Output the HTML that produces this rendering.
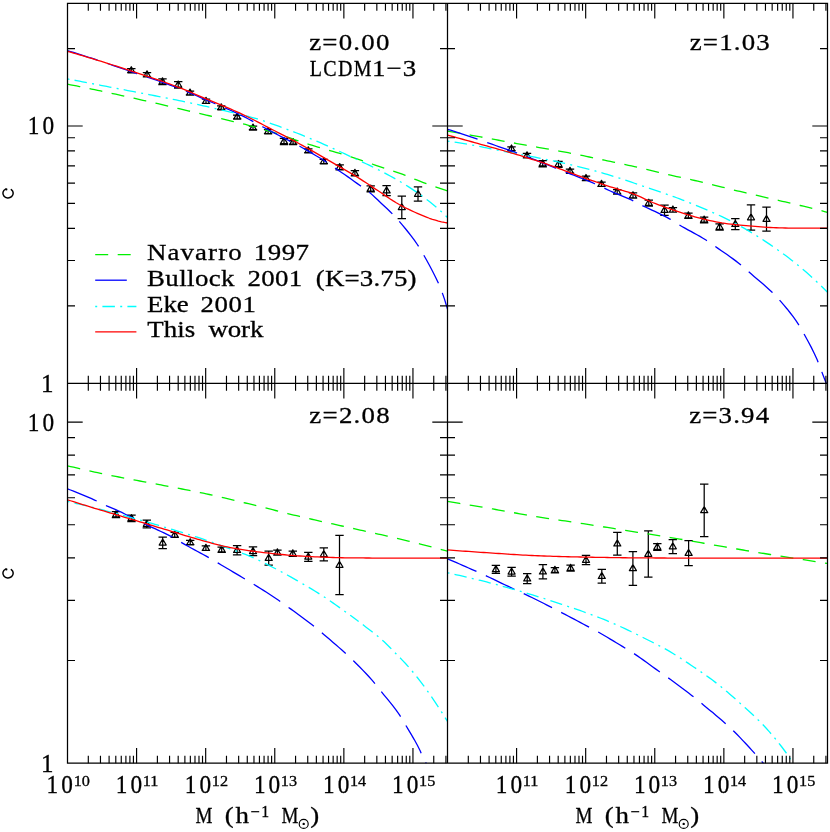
<!DOCTYPE html>
<html><head><meta charset="utf-8"><title>c(M) relations</title>
<style>html,body{margin:0;padding:0;background:#fff}body{width:830px;height:832px;overflow:hidden}svg{display:block;will-change:transform}text{font-family:"Liberation Serif",serif;fill:#000;stroke:#000;stroke-width:.3px}</style></head><body>
<svg width="830" height="832" viewBox="0 0 830 832">
<rect width="830" height="832" fill="#fff"/>
<defs>
<clipPath id="cTL"><rect x="67.5" y="3.25" width="380" height="380"/></clipPath>
<clipPath id="cTR"><rect x="447.5" y="3.25" width="380" height="380"/></clipPath>
<clipPath id="cBL"><rect x="67.5" y="383.25" width="380" height="379.95"/></clipPath>
<clipPath id="cBR"><rect x="447.5" y="383.25" width="380" height="379.95"/></clipPath>
</defs>
<g fill="none" stroke="#000" stroke-width="1.25" stroke-linejoin="round">
<path d="M131.3 68.6V72.4M127.1 68.6H135.5M127.1 72.4H135.5M131.3 66.7L134.8 72.75L127.8 72.75ZM147 72.5V76.9M142.8 72.5H151.2M142.8 76.9H151.2M147 70.9L150.5 76.95L143.5 76.95ZM162.5 78.8V84.6M158.3 78.8H166.7M158.3 84.6H166.7M162.5 77.9L166 83.95L159 83.95ZM178.2 81.5V88.1M174 81.5H182.4M174 88.1H182.4M178.2 81L181.7 87.05L174.7 87.05ZM190 91V94.8M185.8 91H194.2M185.8 94.8H194.2M190 89.1L193.5 95.15L186.5 95.15ZM206 99V103.4M201.8 99H210.2M201.8 103.4H210.2M206 97.4L209.5 103.45L202.5 103.45ZM221.2 105.9V109.3M217 105.9H225.4M217 109.3H225.4M221.2 103.8L224.7 109.85L217.7 109.85ZM237.2 115V118.8M233 115H241.4M233 118.8H241.4M237.2 113.1L240.7 119.15L233.7 119.15ZM253 126.2V129.6M248.8 126.2H257.2M248.8 129.6H257.2M253 124.1L256.5 130.15L249.5 130.15ZM268.1 129.7V133.5M263.9 129.7H272.3M263.9 133.5H272.3M268.1 127.8L271.6 133.85L264.6 133.85ZM284 138.3V144.5M279.8 138.3H288.2M279.8 144.5H288.2M284 137.6L287.5 143.65L280.5 143.65ZM293.1 140.7V144.1M288.9 140.7H297.3M288.9 144.1H297.3M293.1 138.6L296.6 144.65L289.6 144.65ZM308.3 148.8V152.6M304.1 148.8H312.5M304.1 152.6H312.5M308.3 146.9L311.8 152.95L304.8 152.95ZM323.8 159.3V163.7M319.6 159.3H328M319.6 163.7H328M323.8 157.7L327.3 163.75L320.3 163.75ZM339.7 164.9V169.9M335.5 164.9H343.9M335.5 169.9H343.9M339.7 163.6L343.2 169.65L336.2 169.65ZM354.9 170.5V175.9M350.7 170.5H359.1M350.7 175.9H359.1M354.9 169.4L358.4 175.45L351.4 175.45ZM370.7 185.9V191.9M366.5 185.9H374.9M366.5 191.9H374.9M370.7 185.1L374.2 191.15L367.2 191.15ZM386.6 185.5V195.7M382.4 185.5H390.8M382.4 195.7H390.8M386.6 186.8L390.1 192.85L383.1 192.85ZM401.8 196.1V218.5M397.6 196.1H406M397.6 218.5H406M401.8 203.5L405.3 209.55L398.3 209.55ZM418 186.8V201.2M413.8 186.8H422.2M413.8 201.2H422.2M418 190.2L421.5 196.25L414.5 196.25ZM511.5 146.9V150.7M507.3 146.9H515.7M507.3 150.7H515.7M511.5 145L515 151.05L508 151.05ZM527 153.4V157.8M522.8 153.4H531.2M522.8 157.8H531.2M527 151.8L530.5 157.85L523.5 157.85ZM542.7 160.6V166.8M538.5 160.6H546.9M538.5 166.8H546.9M542.7 159.9L546.2 165.95L539.2 165.95ZM558.5 161.3V167.3M554.3 161.3H562.7M554.3 167.3H562.7M558.5 160.5L562 166.55L555 166.55ZM570 169.2V173M565.8 169.2H574.2M565.8 173H574.2M570 167.3L573.5 173.35L566.5 173.35ZM586 176.1V180.5M581.8 176.1H590.2M581.8 180.5H590.2M586 174.5L589.5 180.55L582.5 180.55ZM601.5 182V186.4M597.3 182H605.7M597.3 186.4H605.7M601.5 180.4L605 186.45L598 186.45ZM617.2 189.6V194M613 189.6H621.4M613 194H621.4M617.2 188L620.7 194.05L613.7 194.05ZM633 192.8V198.2M628.8 192.8H637.2M628.8 198.2H637.2M633 191.7L636.5 197.75L629.5 197.75ZM648.8 200V206M644.6 200H653M644.6 206H653M648.8 199.2L652.3 205.25L645.3 205.25ZM664.5 205.1V215.3M660.3 205.1H668.7M660.3 215.3H668.7M664.5 206.4L668 212.45L661 212.45ZM672.9 207.6V212M668.7 207.6H677.1M668.7 212H677.1M672.9 206L676.4 212.05L669.4 212.05ZM688.4 213V218.4M684.2 213H692.6M684.2 218.4H692.6M688.4 211.9L691.9 217.95L684.9 217.95ZM704.1 217V222.8M699.9 217H708.3M699.9 222.8H708.3M704.1 216.1L707.6 222.15L700.6 222.15ZM719.6 223.8V230.2M715.4 223.8H723.8M715.4 230.2H723.8M719.6 223.2L723.1 229.25L716.1 229.25ZM735.3 218.7V229.7M731.1 218.7H739.5M731.1 229.7H739.5M735.3 220.4L738.8 226.45L731.8 226.45ZM751 204.8V230.2M746.8 204.8H755.2M746.8 230.2H755.2M751 213.7L754.5 219.75L747.5 219.75ZM766.5 207.2V231M762.3 207.2H770.7M762.3 231H770.7M766.5 215.3L770 221.35L763 221.35ZM116 511.7V517.7M111.8 511.7H120.2M111.8 517.7H120.2M116 510.9L119.5 516.95L112.5 516.95ZM131.5 515.2V521.6M127.3 515.2H135.7M127.3 521.6H135.7M131.5 514.6L135 520.65L128 520.65ZM146.8 520.2V527.8M142.6 520.2H151M142.6 527.8H151M146.8 520.2L150.3 526.25L143.3 526.25ZM162.7 537.1V548.5M158.5 537.1H166.9M158.5 548.5H166.9M162.7 539L166.2 545.05L159.2 545.05ZM174.7 532.4V537.4M170.5 532.4H178.9M170.5 537.4H178.9M174.7 531.1L178.2 537.15L171.2 537.15ZM190.2 540.3V544.7M186 540.3H194.4M186 544.7H194.4M190.2 538.7L193.7 544.75L186.7 544.75ZM205.9 545.9V550.3M201.7 545.9H210.1M201.7 550.3H210.1M205.9 544.3L209.4 550.35L202.4 550.35ZM221.7 547V552.4M217.5 547H225.9M217.5 552.4H225.9M221.7 545.9L225.2 551.95L218.2 551.95ZM237.1 545.5V554.9M232.9 545.5H241.3M232.9 554.9H241.3M237.1 546.4L240.6 552.45L233.6 552.45ZM253 546.9V555.7M248.8 546.9H257.2M248.8 555.7H257.2M253 547.5L256.5 553.55L249.5 553.55ZM268.7 551.2V565M264.5 551.2H272.9M264.5 565H272.9M268.7 554.3L272.2 560.35L265.2 560.35ZM277.4 550.2V555.2M273.2 550.2H281.6M273.2 555.2H281.6M277.4 548.9L280.9 554.95L273.9 554.95ZM292.8 551V556.4M288.6 551H297M288.6 556.4H297M292.8 549.9L296.3 555.95L289.3 555.95ZM308.3 552.3V561.3M304.1 552.3H312.5M304.1 561.3H312.5M308.3 553L311.8 559.05L304.8 559.05ZM323.8 547.8V560.8M319.6 547.8H328M319.6 560.8H328M323.8 550.5L327.3 556.55L320.3 556.55ZM339.5 535.4V594.6M335.3 535.4H343.7M335.3 594.6H343.7M339.5 561.2L343 567.25L336 567.25ZM495.9 565.4V573.4M491.7 565.4H500.1M491.7 573.4H500.1M495.9 565.6L499.4 571.65L492.4 571.65ZM511.6 567.4V576.2M507.4 567.4H515.8M507.4 576.2H515.8M511.6 568L515.1 574.05L508.1 574.05ZM527.2 573.7V583.7M523 573.7H531.4M523 583.7H531.4M527.2 574.9L530.7 580.95L523.7 580.95ZM542.9 564.5V578.9M538.7 564.5H547.1M538.7 578.9H547.1M542.9 567.9L546.4 573.95L539.4 573.95ZM554.9 567.5V572.9M550.7 567.5H559.1M550.7 572.9H559.1M554.9 566.4L558.4 572.45L551.4 572.45ZM570.6 565.2V571.2M566.4 565.2H574.8M566.4 571.2H574.8M570.6 564.4L574.1 570.45L567.1 570.45ZM586 555.4V564.6M581.8 555.4H590.2M581.8 564.6H590.2M586 556.2L589.5 562.25L582.5 562.25ZM601.8 569.4V583M597.6 569.4H606M597.6 583H606M601.8 572.4L605.3 578.45L598.3 578.45ZM617.3 532.4V555M613.1 532.4H621.5M613.1 555H621.5M617.3 539.9L620.8 545.95L613.8 545.95ZM632.9 551.5V585.3M628.7 551.5H637.1M628.7 585.3H637.1M632.9 564.6L636.4 570.65L629.4 570.65ZM648.3 530.9V577.1M644.1 530.9H652.5M644.1 577.1H652.5M648.3 550.2L651.8 556.25L644.8 556.25ZM657.3 543.6V550.4M653.1 543.6H661.5M653.1 550.4H661.5M657.3 543.2L660.8 549.25L653.8 549.25ZM672.8 539.5V553.5M668.6 539.5H677M668.6 553.5H677M672.8 542.7L676.3 548.75L669.3 548.75ZM688.6 540.6V565.6M684.4 540.6H692.8M684.4 565.6H692.8M688.6 549.3L692.1 555.35L685.1 555.35ZM704.2 484.1V536.7M700 484.1H708.4M700 536.7H708.4M704.2 506.6L707.7 512.65L700.7 512.65Z"/>
</g>
<g clip-path="url(#cTL)" fill="none" stroke-width="1.3" stroke-linejoin="round">
<path d="M67.5 84.2 L70.52 84.79 L73.53 85.38 L76.55 85.98 L79.56 86.58 L82.58 87.19 L85.6 87.8 L88.61 88.42 L91.63 89.04 L94.64 89.67 L97.66 90.3 L100.67 90.93 L103.69 91.57 L106.71 92.22 L109.72 92.87 L112.74 93.53 L115.75 94.19 L118.77 94.85 L121.79 95.52 L124.8 96.2 L127.82 96.87 L130.83 97.55 L133.85 98.23 L136.87 98.91 L139.88 99.6 L142.9 100.28 L145.91 100.97 L148.93 101.66 L151.94 102.35 L154.96 103.04 L157.98 103.74 L160.99 104.44 L164.01 105.14 L167.02 105.85 L170.04 106.55 L173.06 107.26 L176.07 107.97 L179.09 108.68 L182.1 109.39 L185.12 110.09 L188.13 110.8 L191.15 111.51 L194.17 112.22 L197.18 112.92 L200.2 113.63 L203.21 114.33 L206.23 115.04 L209.25 115.75 L212.26 116.46 L215.28 117.18 L218.29 117.9 L221.31 118.62 L224.33 119.34 L227.34 120.07 L230.36 120.8 L233.37 121.53 L236.39 122.26 L239.4 122.99 L242.42 123.73 L245.44 124.49 L248.45 125.26 L251.47 126.04 L254.48 126.86 L257.5 127.69 L260.52 128.54 L263.53 129.41 L266.55 130.3 L269.56 131.2 L272.58 132.13 L275.6 133.07 L278.61 134.05 L281.63 135.06 L284.64 136.1 L287.66 137.15 L290.67 138.22 L293.69 139.28 L296.71 140.33 L299.72 141.37 L302.74 142.39 L305.75 143.38 L308.77 144.33 L311.79 145.24 L314.8 146.13 L317.82 147.01 L320.83 147.88 L323.85 148.75 L326.87 149.62 L329.88 150.51 L332.9 151.41 L335.91 152.31 L338.93 153.2 L341.94 154.11 L344.96 155.02 L347.98 155.95 L350.99 156.9 L354.01 157.87 L357.02 158.86 L360.04 159.87 L363.06 160.9 L366.07 161.93 L369.09 162.97 L372.1 164.01 L375.12 165.05 L378.13 166.09 L381.15 167.11 L384.17 168.12 L387.18 169.11 L390.2 170.08 L393.21 171.06 L396.23 172.06 L399.25 173.09 L402.26 174.16 L405.28 175.29 L408.29 176.53 L411.31 177.82 L414.33 179.05 L417.34 180.23 L420.36 181.39 L423.37 182.54 L426.39 183.67 L429.4 184.78 L432.42 185.86 L435.44 186.91 L438.45 187.93 L441.47 188.91 L444.48 189.87 L447.5 190.8" stroke="#00f000" stroke-dasharray="13 9.5"/>
<path d="M67.5 50.6 L70.52 51.53 L73.53 52.46 L76.55 53.41 L79.56 54.36 L82.58 55.31 L85.6 56.28 L88.61 57.25 L91.63 58.23 L94.64 59.21 L97.66 60.2 L100.67 61.19 L103.69 62.2 L106.71 63.21 L109.72 64.24 L112.74 65.27 L115.75 66.31 L118.77 67.35 L121.79 68.4 L124.8 69.45 L127.82 70.5 L130.83 71.54 L133.85 72.58 L136.87 73.61 L139.88 74.63 L142.9 75.65 L145.91 76.66 L148.93 77.68 L151.94 78.7 L154.96 79.72 L157.98 80.76 L160.99 81.8 L164.01 82.86 L167.02 83.93 L170.04 85.02 L173.06 86.13 L176.07 87.26 L179.09 88.42 L182.1 89.62 L185.12 90.86 L188.13 92.12 L191.15 93.41 L194.17 94.71 L197.18 96.02 L200.2 97.33 L203.21 98.63 L206.23 99.93 L209.25 101.21 L212.26 102.48 L215.28 103.76 L218.29 105.03 L221.31 106.32 L224.33 107.61 L227.34 108.93 L230.36 110.26 L233.37 111.62 L236.39 113.01 L239.4 114.44 L242.42 115.92 L245.44 117.44 L248.45 118.99 L251.47 120.58 L254.48 122.24 L257.5 123.92 L260.52 125.59 L263.53 127.23 L266.55 128.86 L269.56 130.48 L272.58 132.09 L275.6 133.69 L278.61 135.26 L281.63 136.83 L284.64 138.39 L287.66 139.95 L290.67 141.52 L293.69 143.07 L296.71 144.64 L299.72 146.27 L302.74 147.95 L305.75 149.66 L308.77 151.41 L311.79 153.17 L314.8 154.95 L317.82 156.73 L320.83 158.55 L323.85 160.43 L326.87 162.4 L329.88 164.49 L332.9 166.61 L335.91 168.67 L338.93 170.7 L341.94 172.73 L344.96 174.78 L347.98 176.88 L350.99 179.02 L354.01 181.18 L357.02 183.35 L360.04 185.5 L363.06 187.57 L366.07 189.67 L369.09 192 L372.1 194.63 L375.12 197.46 L378.13 200.34 L381.15 203.17 L384.17 205.96 L387.18 208.78 L390.2 211.7 L393.21 214.76 L396.23 217.99 L399.25 221.4 L402.26 224.91 L405.28 228.5 L408.29 232.22 L411.31 236.1 L414.33 240.18 L417.34 244.5 L420.36 249.32 L423.37 254.49 L426.39 259.79 L429.4 265.25 L432.42 270.94 L435.44 276.93 L438.45 283.31 L441.47 290.52 L444.48 299.1 L447.5 309" stroke="#0000ff" stroke-dasharray="31.6 10.3"/>
<path d="M67.5 78.9 L70.52 79.48 L73.53 80.06 L76.55 80.63 L79.56 81.21 L82.58 81.79 L85.6 82.37 L88.61 82.95 L91.63 83.53 L94.64 84.12 L97.66 84.7 L100.67 85.28 L103.69 85.86 L106.71 86.44 L109.72 87.03 L112.74 87.61 L115.75 88.19 L118.77 88.78 L121.79 89.36 L124.8 89.95 L127.82 90.53 L130.83 91.12 L133.85 91.7 L136.87 92.28 L139.88 92.86 L142.9 93.44 L145.91 94.02 L148.93 94.6 L151.94 95.18 L154.96 95.76 L157.98 96.34 L160.99 96.93 L164.01 97.53 L167.02 98.13 L170.04 98.73 L173.06 99.35 L176.07 99.97 L179.09 100.6 L182.1 101.23 L185.12 101.87 L188.13 102.51 L191.15 103.16 L194.17 103.81 L197.18 104.47 L200.2 105.13 L203.21 105.8 L206.23 106.48 L209.25 107.16 L212.26 107.85 L215.28 108.55 L218.29 109.24 L221.31 109.93 L224.33 110.62 L227.34 111.31 L230.36 112.01 L233.37 112.72 L236.39 113.43 L239.4 114.16 L242.42 114.91 L245.44 115.67 L248.45 116.46 L251.47 117.27 L254.48 118.11 L257.5 118.97 L260.52 119.89 L263.53 120.88 L266.55 121.92 L269.56 122.98 L272.58 124.06 L275.6 125.13 L278.61 126.21 L281.63 127.31 L284.64 128.42 L287.66 129.55 L290.67 130.69 L293.69 131.84 L296.71 133.01 L299.72 134.2 L302.74 135.4 L305.75 136.62 L308.77 137.86 L311.79 139.11 L314.8 140.38 L317.82 141.67 L320.83 142.96 L323.85 144.28 L326.87 145.61 L329.88 146.97 L332.9 148.35 L335.91 149.74 L338.93 151.13 L341.94 152.53 L344.96 153.93 L347.98 155.33 L350.99 156.72 L354.01 158.11 L357.02 159.5 L360.04 160.9 L363.06 162.32 L366.07 163.75 L369.09 165.21 L372.1 166.69 L375.12 168.18 L378.13 169.68 L381.15 171.2 L384.17 172.75 L387.18 174.33 L390.2 175.95 L393.21 177.62 L396.23 179.33 L399.25 181.1 L402.26 182.91 L405.28 184.77 L408.29 186.67 L411.31 188.62 L414.33 190.62 L417.34 192.66 L420.36 194.76 L423.37 196.93 L426.39 199.19 L429.4 201.52 L432.42 203.94 L435.44 206.46 L438.45 209.07 L441.47 211.79 L444.48 214.6 L447.5 217.5" stroke="#00ffff" stroke-dasharray="2 5.2 12.5 5.3"/>
<path d="M67.5 51.3 L70.52 52.17 L73.53 53.04 L76.55 53.92 L79.56 54.81 L82.58 55.7 L85.6 56.6 L88.61 57.51 L91.63 58.42 L94.64 59.34 L97.66 60.27 L100.67 61.2 L103.69 62.14 L106.71 63.09 L109.72 64.04 L112.74 65 L115.75 65.97 L118.77 66.95 L121.79 67.93 L124.8 68.92 L127.82 69.92 L130.83 70.91 L133.85 71.91 L136.87 72.91 L139.88 73.91 L142.9 74.9 L145.91 75.9 L148.93 76.9 L151.94 77.9 L154.96 78.91 L157.98 79.93 L160.99 80.97 L164.01 82.01 L167.02 83.07 L170.04 84.15 L173.06 85.25 L176.07 86.37 L179.09 87.52 L182.1 88.7 L185.12 89.93 L188.13 91.18 L191.15 92.46 L194.17 93.75 L197.18 95.04 L200.2 96.33 L203.21 97.62 L206.23 98.88 L209.25 100.14 L212.26 101.38 L215.28 102.62 L218.29 103.87 L221.31 105.12 L224.33 106.38 L227.34 107.65 L230.36 108.94 L233.37 110.25 L236.39 111.58 L239.4 112.95 L242.42 114.35 L245.44 115.78 L248.45 117.24 L251.47 118.73 L254.48 120.26 L257.5 121.83 L260.52 123.41 L263.53 125 L266.55 126.6 L269.56 128.17 L272.58 129.73 L275.6 131.27 L278.61 132.81 L281.63 134.35 L284.64 135.9 L287.66 137.47 L290.67 139.05 L293.69 140.67 L296.71 142.3 L299.72 143.95 L302.74 145.62 L305.75 147.3 L308.77 148.99 L311.79 150.69 L314.8 152.4 L317.82 154.12 L320.83 155.87 L323.85 157.62 L326.87 159.39 L329.88 161.15 L332.9 162.92 L335.91 164.67 L338.93 166.41 L341.94 168.14 L344.96 169.87 L347.98 171.6 L350.99 173.37 L354.01 175.16 L357.02 177 L360.04 178.9 L363.06 180.85 L366.07 182.83 L369.09 184.83 L372.1 186.85 L375.12 188.85 L378.13 190.83 L381.15 192.82 L384.17 194.85 L387.18 196.89 L390.2 198.92 L393.21 200.89 L396.23 202.77 L399.25 204.53 L402.26 206.16 L405.28 207.71 L408.29 209.19 L411.31 210.61 L414.33 211.98 L417.34 213.31 L420.36 214.6 L423.37 215.86 L426.39 217.09 L429.4 218.26 L432.42 219.29 L435.44 220.18 L438.45 221.02 L441.47 221.77 L444.48 222.44 L447.5 223" stroke="#ff0000"/>
</g>
<g clip-path="url(#cTR)" fill="none" stroke-width="1.3" stroke-linejoin="round">
<path d="M447.5 131 L450.52 131.54 L453.53 132.07 L456.55 132.61 L459.56 133.15 L462.58 133.69 L465.6 134.23 L468.61 134.77 L471.63 135.31 L474.64 135.85 L477.66 136.4 L480.67 136.94 L483.69 137.49 L486.71 138.03 L489.72 138.58 L492.74 139.13 L495.75 139.69 L498.77 140.24 L501.79 140.79 L504.8 141.34 L507.82 141.9 L510.83 142.45 L513.85 143 L516.87 143.55 L519.88 144.1 L522.9 144.65 L525.91 145.19 L528.93 145.73 L531.94 146.26 L534.96 146.79 L537.98 147.32 L540.99 147.85 L544.01 148.37 L547.02 148.9 L550.04 149.43 L553.06 149.96 L556.07 150.5 L559.09 151.05 L562.1 151.6 L565.12 152.16 L568.13 152.72 L571.15 153.3 L574.17 153.89 L577.18 154.5 L580.2 155.11 L583.21 155.73 L586.23 156.36 L589.25 156.99 L592.26 157.62 L595.28 158.26 L598.29 158.9 L601.31 159.54 L604.33 160.18 L607.34 160.82 L610.36 161.45 L613.37 162.08 L616.39 162.71 L619.4 163.35 L622.42 163.98 L625.44 164.63 L628.45 165.27 L631.47 165.93 L634.48 166.6 L637.5 167.28 L640.52 167.97 L643.53 168.69 L646.55 169.42 L649.56 170.17 L652.58 170.92 L655.6 171.67 L658.61 172.41 L661.63 173.14 L664.64 173.86 L667.66 174.56 L670.67 175.24 L673.69 175.91 L676.71 176.57 L679.72 177.23 L682.74 177.88 L685.75 178.53 L688.77 179.18 L691.79 179.84 L694.8 180.5 L697.82 181.17 L700.83 181.86 L703.85 182.56 L706.87 183.28 L709.88 184.01 L712.9 184.76 L715.91 185.51 L718.93 186.27 L721.94 187.02 L724.96 187.78 L727.98 188.54 L730.99 189.29 L734.01 190.04 L737.02 190.77 L740.04 191.49 L743.06 192.2 L746.07 192.91 L749.09 193.61 L752.1 194.31 L755.12 195.01 L758.13 195.7 L761.15 196.39 L764.17 197.09 L767.18 197.78 L770.2 198.48 L773.21 199.18 L776.23 199.88 L779.25 200.58 L782.26 201.28 L785.28 201.98 L788.29 202.68 L791.31 203.38 L794.33 204.08 L797.34 204.79 L800.36 205.5 L803.37 206.22 L806.39 206.95 L809.4 207.68 L812.42 208.43 L815.44 209.18 L818.45 209.95 L821.47 210.73 L824.48 211.51 L827.5 212.3" stroke="#00f000" stroke-dasharray="13 9.5"/>
<path d="M447.5 129.3 L450.51 130.21 L453.51 131.14 L456.52 132.08 L459.52 133.04 L462.53 134.02 L465.53 135.01 L468.54 136.01 L471.54 137.03 L474.55 138.05 L477.56 139.09 L480.56 140.16 L483.57 141.26 L486.57 142.35 L489.58 143.41 L492.58 144.46 L495.59 145.5 L498.59 146.53 L501.6 147.56 L504.61 148.6 L507.61 149.64 L510.62 150.7 L513.62 151.77 L516.63 152.87 L519.63 153.98 L522.64 155.11 L525.64 156.25 L528.65 157.4 L531.66 158.56 L534.66 159.73 L537.67 160.91 L540.67 162.1 L543.68 163.29 L546.68 164.48 L549.69 165.68 L552.69 166.88 L555.7 168.08 L558.71 169.28 L561.71 170.47 L564.72 171.67 L567.72 172.86 L570.73 174.04 L573.73 175.21 L576.74 176.39 L579.74 177.57 L582.75 178.77 L585.76 179.98 L588.76 181.21 L591.77 182.46 L594.77 183.75 L597.78 185.09 L600.78 186.48 L603.79 187.9 L606.79 189.32 L609.8 190.73 L612.81 192.09 L615.81 193.39 L618.82 194.63 L621.82 195.84 L624.83 197.05 L627.83 198.31 L630.84 199.65 L633.84 201.11 L636.85 202.71 L639.86 204.31 L642.86 205.83 L645.87 207.28 L648.87 208.68 L651.88 210.07 L654.88 211.45 L657.89 212.86 L660.89 214.3 L663.9 215.8 L666.91 217.37 L669.91 219.06 L672.92 220.94 L675.92 222.88 L678.93 224.73 L681.93 226.48 L684.94 228.16 L687.94 229.81 L690.95 231.44 L693.96 233.07 L696.96 234.72 L699.97 236.42 L702.97 238.19 L705.98 240.05 L708.98 242.05 L711.99 244.17 L714.99 246.29 L718 248.37 L721.01 250.44 L724.01 252.5 L727.02 254.59 L730.02 256.71 L733.03 258.88 L736.03 261.12 L739.04 263.45 L742.04 265.94 L745.05 268.59 L748.06 271.26 L751.06 273.85 L754.07 276.39 L757.07 278.91 L760.08 281.45 L763.08 284.03 L766.09 286.67 L769.09 289.41 L772.1 292.26 L775.11 295.28 L778.11 298.5 L781.12 301.89 L784.12 305.36 L787.13 308.97 L790.13 312.74 L793.14 316.7 L796.14 320.88 L799.15 325.4 L802.16 330.57 L805.16 335.96 L808.17 341.44 L811.17 347.15 L814.18 353.24 L817.18 359.83 L820.19 367.61 L823.19 375.45 L826.2 383.2" stroke="#0000ff" stroke-dasharray="31.6 10.3"/>
<path d="M447.5 141.1 L450.52 141.53 L453.53 141.98 L456.55 142.44 L459.56 142.92 L462.58 143.41 L465.6 143.91 L468.61 144.43 L471.63 144.96 L474.64 145.51 L477.66 146.09 L480.67 146.7 L483.69 147.31 L486.71 147.94 L489.72 148.57 L492.74 149.19 L495.75 149.8 L498.77 150.39 L501.79 150.97 L504.8 151.54 L507.82 152.11 L510.83 152.67 L513.85 153.23 L516.87 153.79 L519.88 154.35 L522.9 154.91 L525.91 155.48 L528.93 156.05 L531.94 156.63 L534.96 157.22 L537.98 157.81 L540.99 158.41 L544.01 159.01 L547.02 159.62 L550.04 160.23 L553.06 160.85 L556.07 161.48 L559.09 162.13 L562.1 162.79 L565.12 163.46 L568.13 164.15 L571.15 164.85 L574.17 165.57 L577.18 166.3 L580.2 167.05 L583.21 167.81 L586.23 168.58 L589.25 169.37 L592.26 170.18 L595.28 170.99 L598.29 171.83 L601.31 172.69 L604.33 173.57 L607.34 174.46 L610.36 175.38 L613.37 176.3 L616.39 177.24 L619.4 178.19 L622.42 179.15 L625.44 180.15 L628.45 181.17 L631.47 182.2 L634.48 183.24 L637.5 184.27 L640.52 185.29 L643.53 186.3 L646.55 187.33 L649.56 188.35 L652.58 189.38 L655.6 190.41 L658.61 191.44 L661.63 192.47 L664.64 193.49 L667.66 194.53 L670.67 195.58 L673.69 196.65 L676.71 197.75 L679.72 198.87 L682.74 200.03 L685.75 201.2 L688.77 202.4 L691.79 203.62 L694.8 204.86 L697.82 206.11 L700.83 207.38 L703.85 208.66 L706.87 209.94 L709.88 211.24 L712.9 212.55 L715.91 213.89 L718.93 215.25 L721.94 216.65 L724.96 218.1 L727.98 219.58 L730.99 221.12 L734.01 222.69 L737.02 224.31 L740.04 225.97 L743.06 227.67 L746.07 229.4 L749.09 231.16 L752.1 232.96 L755.12 234.81 L758.13 236.7 L761.15 238.63 L764.17 240.6 L767.18 242.61 L770.2 244.66 L773.21 246.74 L776.23 248.84 L779.25 250.97 L782.26 253.14 L785.28 255.35 L788.29 257.6 L791.31 259.9 L794.33 262.26 L797.34 264.69 L800.36 267.18 L803.37 269.73 L806.39 272.34 L809.4 275.02 L812.42 277.75 L815.44 280.54 L818.45 283.4 L821.47 286.31 L824.48 289.28 L827.5 292.3" stroke="#00ffff" stroke-dasharray="2 5.2 12.5 5.3"/>
<path d="M447.5 135.1 L450.52 135.93 L453.53 136.75 L456.55 137.58 L459.56 138.41 L462.58 139.25 L465.6 140.08 L468.61 140.92 L471.63 141.75 L474.64 142.59 L477.66 143.43 L480.67 144.27 L483.69 145.1 L486.71 145.94 L489.72 146.77 L492.74 147.6 L495.75 148.44 L498.77 149.29 L501.79 150.14 L504.8 151 L507.82 151.88 L510.83 152.76 L513.85 153.66 L516.87 154.57 L519.88 155.49 L522.9 156.42 L525.91 157.36 L528.93 158.31 L531.94 159.27 L534.96 160.24 L537.98 161.22 L540.99 162.21 L544.01 163.21 L547.02 164.23 L550.04 165.26 L553.06 166.33 L556.07 167.42 L559.09 168.53 L562.1 169.66 L565.12 170.79 L568.13 171.93 L571.15 173.07 L574.17 174.21 L577.18 175.33 L580.2 176.43 L583.21 177.51 L586.23 178.57 L589.25 179.62 L592.26 180.67 L595.28 181.71 L598.29 182.75 L601.31 183.77 L604.33 184.79 L607.34 185.79 L610.36 186.77 L613.37 187.74 L616.39 188.69 L619.4 189.61 L622.42 190.49 L625.44 191.29 L628.45 192.12 L631.47 193.11 L634.48 194.27 L637.5 195.57 L640.52 196.95 L643.53 198.37 L646.55 199.8 L649.56 201.19 L652.58 202.49 L655.6 203.68 L658.61 204.82 L661.63 205.93 L664.64 207.02 L667.66 208.08 L670.67 209.11 L673.69 210.12 L676.71 211.11 L679.72 212.09 L682.74 213.07 L685.75 214.04 L688.77 215 L691.79 215.92 L694.8 216.81 L697.82 217.66 L700.83 218.44 L703.85 219.17 L706.87 219.88 L709.88 220.56 L712.9 221.22 L715.91 221.84 L718.93 222.41 L721.94 222.94 L724.96 223.4 L727.98 223.8 L730.99 224.17 L734.01 224.5 L737.02 224.81 L740.04 225.1 L743.06 225.37 L746.07 225.63 L749.09 225.88 L752.1 226.13 L755.12 226.39 L758.13 226.65 L761.15 226.89 L764.17 227.12 L767.18 227.33 L770.2 227.51 L773.21 227.65 L776.23 227.75 L779.25 227.85 L782.26 227.93 L785.28 228.01 L788.29 228.08 L791.31 228.14 L794.33 228.18 L797.34 228.2 L800.36 228.2 L803.37 228.2 L806.39 228.2 L809.4 228.2 L812.42 228.2 L815.44 228.2 L818.45 228.2 L821.47 228.2 L824.48 228.2 L827.5 228.2" stroke="#ff0000"/>
</g>
<g clip-path="url(#cBL)" fill="none" stroke-width="1.3" stroke-linejoin="round">
<path d="M67.5 465.8 L70.52 466.52 L73.53 467.23 L76.55 467.93 L79.56 468.63 L82.58 469.32 L85.6 470.01 L88.61 470.68 L91.63 471.35 L94.64 472.02 L97.66 472.67 L100.67 473.32 L103.69 473.96 L106.71 474.59 L109.72 475.21 L112.74 475.82 L115.75 476.42 L118.77 477.01 L121.79 477.6 L124.8 478.17 L127.82 478.74 L130.83 479.31 L133.85 479.87 L136.87 480.43 L139.88 480.99 L142.9 481.55 L145.91 482.11 L148.93 482.68 L151.94 483.25 L154.96 483.82 L157.98 484.4 L160.99 484.98 L164.01 485.55 L167.02 486.13 L170.04 486.7 L173.06 487.27 L176.07 487.84 L179.09 488.41 L182.1 488.99 L185.12 489.57 L188.13 490.15 L191.15 490.75 L194.17 491.35 L197.18 491.96 L200.2 492.58 L203.21 493.21 L206.23 493.85 L209.25 494.5 L212.26 495.17 L215.28 495.85 L218.29 496.54 L221.31 497.23 L224.33 497.94 L227.34 498.65 L230.36 499.37 L233.37 500.09 L236.39 500.81 L239.4 501.54 L242.42 502.27 L245.44 503 L248.45 503.73 L251.47 504.45 L254.48 505.19 L257.5 505.94 L260.52 506.69 L263.53 507.45 L266.55 508.21 L269.56 508.97 L272.58 509.74 L275.6 510.5 L278.61 511.27 L281.63 512.03 L284.64 512.79 L287.66 513.54 L290.67 514.28 L293.69 515.02 L296.71 515.74 L299.72 516.46 L302.74 517.17 L305.75 517.87 L308.77 518.56 L311.79 519.25 L314.8 519.94 L317.82 520.62 L320.83 521.29 L323.85 521.97 L326.87 522.64 L329.88 523.31 L332.9 523.98 L335.91 524.65 L338.93 525.33 L341.94 526 L344.96 526.68 L347.98 527.35 L350.99 528.03 L354.01 528.7 L357.02 529.36 L360.04 530.03 L363.06 530.69 L366.07 531.35 L369.09 532.02 L372.1 532.68 L375.12 533.35 L378.13 534.02 L381.15 534.7 L384.17 535.38 L387.18 536.07 L390.2 536.77 L393.21 537.47 L396.23 538.19 L399.25 538.91 L402.26 539.63 L405.28 540.36 L408.29 541.09 L411.31 541.83 L414.33 542.58 L417.34 543.33 L420.36 544.08 L423.37 544.84 L426.39 545.61 L429.4 546.38 L432.42 547.15 L435.44 547.93 L438.45 548.72 L441.47 549.51 L444.48 550.3 L447.5 551.1" stroke="#00f000" stroke-dasharray="13 9.5"/>
<path d="M67.5 488.9 L70.52 490 L73.53 491.15 L76.55 492.33 L79.56 493.54 L82.58 494.79 L85.59 496.07 L88.61 497.37 L91.62 498.7 L94.64 500.04 L97.65 501.42 L100.67 502.9 L103.68 504.39 L106.7 505.81 L109.71 507.13 L112.73 508.41 L115.74 509.7 L118.76 511.03 L121.77 512.45 L124.79 513.96 L127.8 515.51 L130.82 517.06 L133.83 518.56 L136.85 520.03 L139.86 521.5 L142.88 522.95 L145.89 524.4 L148.91 525.86 L151.92 527.3 L154.94 528.7 L157.95 530.08 L160.97 531.47 L163.98 532.88 L167 534.33 L170.01 535.85 L173.03 537.45 L176.04 539.23 L179.06 541.13 L182.07 542.91 L185.09 544.63 L188.11 546.3 L191.12 547.95 L194.14 549.58 L197.15 551.2 L200.17 552.83 L203.18 554.48 L206.2 556.16 L209.21 557.88 L212.23 559.63 L215.24 561.4 L218.26 563.17 L221.27 564.94 L224.29 566.72 L227.3 568.5 L230.32 570.29 L233.33 572.07 L236.35 573.86 L239.36 575.66 L242.38 577.45 L245.39 579.25 L248.41 581.04 L251.42 582.86 L254.44 584.71 L257.45 586.59 L260.47 588.47 L263.48 590.38 L266.5 592.3 L269.51 594.25 L272.53 596.22 L275.54 598.23 L278.56 600.27 L281.57 602.37 L284.59 604.53 L287.6 606.72 L290.62 608.9 L293.63 611.08 L296.65 613.26 L299.66 615.46 L302.68 617.68 L305.69 619.92 L308.71 622.21 L311.73 624.54 L314.74 626.93 L317.76 629.42 L320.77 631.94 L323.79 634.47 L326.8 637.02 L329.82 639.57 L332.83 642.15 L335.85 644.75 L338.86 647.38 L341.88 650.05 L344.89 652.75 L347.91 655.52 L350.92 658.36 L353.94 661.3 L356.95 664.28 L359.97 667.3 L362.98 670.38 L366 673.54 L369.01 676.79 L372.03 680.15 L375.04 683.66 L378.06 687.48 L381.07 691.33 L384.09 695.04 L387.1 698.71 L390.12 702.4 L393.13 706.19 L396.15 710.17 L399.16 714.41 L402.18 719.15 L405.19 724.3 L408.21 729.35 L411.22 734.38 L414.24 739.56 L417.25 745.05 L420.27 751.02 L423.28 758.27 L426.3 763.6" stroke="#0000ff" stroke-dasharray="31.6 10.3"/>
<path d="M67.5 501.4 L70.52 502.1 L73.53 502.81 L76.55 503.52 L79.56 504.24 L82.58 504.97 L85.6 505.7 L88.61 506.44 L91.63 507.19 L94.64 507.94 L97.66 508.7 L100.67 509.47 L103.69 510.24 L106.71 511.01 L109.72 511.8 L112.74 512.59 L115.75 513.39 L118.77 514.2 L121.79 515.01 L124.8 515.84 L127.82 516.67 L130.83 517.51 L133.85 518.35 L136.87 519.19 L139.88 520.05 L142.9 520.9 L145.91 521.76 L148.93 522.62 L151.94 523.49 L154.96 524.36 L157.98 525.24 L160.99 526.13 L164.01 527.02 L167.02 527.92 L170.04 528.82 L173.06 529.73 L176.07 530.64 L179.09 531.57 L182.1 532.49 L185.12 533.43 L188.13 534.37 L191.15 535.31 L194.17 536.27 L197.18 537.24 L200.2 538.23 L203.21 539.23 L206.23 540.26 L209.25 541.31 L212.26 542.38 L215.28 543.47 L218.29 544.57 L221.31 545.68 L224.33 546.79 L227.34 547.9 L230.36 549 L233.37 550.08 L236.39 551.15 L239.4 552.23 L242.42 553.33 L245.44 554.47 L248.45 555.66 L251.47 556.92 L254.48 558.26 L257.5 559.66 L260.52 561.11 L263.53 562.6 L266.55 564.12 L269.56 565.66 L272.58 567.22 L275.6 568.77 L278.61 570.35 L281.63 571.96 L284.64 573.6 L287.66 575.26 L290.67 576.93 L293.69 578.63 L296.71 580.35 L299.72 582.07 L302.74 583.82 L305.75 585.57 L308.77 587.35 L311.79 589.15 L314.8 590.99 L317.82 592.85 L320.83 594.76 L323.85 596.71 L326.87 598.71 L329.88 600.76 L332.9 602.85 L335.91 604.97 L338.93 607.12 L341.94 609.28 L344.96 611.46 L347.98 613.64 L350.99 615.84 L354.01 618.06 L357.02 620.31" stroke="#00ffff" stroke-dasharray="2 5.2 12.5 5.3"/>
<path d="M357.02 620.31 L360.04 622.57 L363.06 624.85 L366.07 627.16 L369.09 629.5 L372.1 631.85 L375.12 634.2 L378.13 636.6 L381.15 639.12 L384.17 641.82 L387.18 644.74 L390.2 647.79 L393.21 650.88 L396.23 653.95 L399.25 657 L402.26 660.09 L405.28 663.26 L408.29 666.59 L411.31 670.09 L414.33 673.73 L417.34 677.49 L420.36 681.37 L423.37 685.36 L426.39 689.46 L429.4 693.72 L432.42 698.1 L435.44 702.58 L438.45 707.15 L441.47 711.79 L444.48 716.59 L447.5 721.5" stroke="#00ffff" stroke-dasharray="2 5.2 12.5 5.3" stroke-dashoffset="0"/>
<path d="M67.5 499.8 L70.52 500.75 L73.53 501.7 L76.55 502.65 L79.56 503.6 L82.58 504.54 L85.6 505.47 L88.61 506.4 L91.63 507.33 L94.64 508.26 L97.66 509.17 L100.67 510.09 L103.69 510.99 L106.71 511.9 L109.72 512.79 L112.74 513.69 L115.75 514.58 L118.77 515.47 L121.79 516.37 L124.8 517.26 L127.82 518.16 L130.83 519.06 L133.85 519.97 L136.87 520.87 L139.88 521.78 L142.9 522.69 L145.91 523.61 L148.93 524.52 L151.94 525.43 L154.96 526.35 L157.98 527.26 L160.99 528.17 L164.01 529.08 L167.02 529.99 L170.04 530.89 L173.06 531.81 L176.07 532.73 L179.09 533.66 L182.1 534.59 L185.12 535.52 L188.13 536.43 L191.15 537.34 L194.17 538.24 L197.18 539.12 L200.2 539.98 L203.21 540.82 L206.23 541.64 L209.25 542.45 L212.26 543.26 L215.28 544.05 L218.29 544.83 L221.31 545.56 L224.33 546.27 L227.34 546.92 L230.36 547.53 L233.37 548.1 L236.39 548.65 L239.4 549.17 L242.42 549.66 L245.44 550.13 L248.45 550.58 L251.47 551 L254.48 551.41 L257.5 551.8 L260.52 552.18 L263.53 552.54 L266.55 552.88 L269.56 553.22 L272.58 553.54 L275.6 553.86 L278.61 554.17 L281.63 554.48 L284.64 554.77 L287.66 555.06 L290.67 555.33 L293.69 555.58 L296.71 555.8 L299.72 556 L302.74 556.18 L305.75 556.35 L308.77 556.51 L311.79 556.66 L314.8 556.8 L317.82 556.93 L320.83 557.05 L323.85 557.16 L326.87 557.27 L329.88 557.38 L332.9 557.48 L335.91 557.58 L338.93 557.66 L341.94 557.73 L344.96 557.78 L347.98 557.82 L350.99 557.85 L354.01 557.88 L357.02 557.91 L360.04 557.94 L363.06 557.96 L366.07 557.99 L369.09 558.01 L372.1 558.03 L375.12 558.04 L378.13 558.06 L381.15 558.07 L384.17 558.08 L387.18 558.09 L390.2 558.1 L393.21 558.1 L396.23 558.1 L399.25 558.1 L402.26 558.1 L405.28 558.1 L408.29 558.1 L411.31 558.1 L414.33 558.1 L417.34 558.1 L420.36 558.1 L423.37 558.1 L426.39 558.1 L429.4 558.1 L432.42 558.1 L435.44 558.1 L438.45 558.1 L441.47 558.1 L444.48 558.1 L447.5 558.1" stroke="#ff0000"/>
</g>
<g clip-path="url(#cBR)" fill="none" stroke-width="1.3" stroke-linejoin="round">
<path d="M447.5 501.4 L450.52 501.89 L453.53 502.39 L456.55 502.89 L459.56 503.39 L462.58 503.89 L465.6 504.39 L468.61 504.89 L471.63 505.4 L474.64 505.9 L477.66 506.41 L480.67 506.92 L483.69 507.43 L486.71 507.95 L489.72 508.46 L492.74 508.98 L495.75 509.51 L498.77 510.04 L501.79 510.57 L504.8 511.11 L507.82 511.65 L510.83 512.19 L513.85 512.73 L516.87 513.26 L519.88 513.79 L522.9 514.32 L525.91 514.84 L528.93 515.36 L531.94 515.87 L534.96 516.37 L537.98 516.85 L540.99 517.33 L544.01 517.81 L547.02 518.27 L550.04 518.73 L553.06 519.18 L556.07 519.64 L559.09 520.08 L562.1 520.53 L565.12 520.97 L568.13 521.42 L571.15 521.87 L574.17 522.32 L577.18 522.77 L580.2 523.22 L583.21 523.69 L586.23 524.15 L589.25 524.62 L592.26 525.1 L595.28 525.57 L598.29 526.05 L601.31 526.52 L604.33 527 L607.34 527.48 L610.36 527.96 L613.37 528.45 L616.39 528.93 L619.4 529.41 L622.42 529.89 L625.44 530.37 L628.45 530.85 L631.47 531.33 L634.48 531.81 L637.5 532.29 L640.52 532.76 L643.53 533.24 L646.55 533.71 L649.56 534.19 L652.58 534.66 L655.6 535.14 L658.61 535.62 L661.63 536.1 L664.64 536.58 L667.66 537.07 L670.67 537.56 L673.69 538.05 L676.71 538.55 L679.72 539.05 L682.74 539.56 L685.75 540.08 L688.77 540.6 L691.79 541.13 L694.8 541.66 L697.82 542.19 L700.83 542.72 L703.85 543.25 L706.87 543.79 L709.88 544.32 L712.9 544.86 L715.91 545.39 L718.93 545.91 L721.94 546.44 L724.96 546.95 L727.98 547.47 L730.99 547.98 L734.01 548.49 L737.02 549 L740.04 549.51 L743.06 550.01 L746.07 550.52 L749.09 551.02 L752.1 551.52 L755.12 552.02 L758.13 552.52 L761.15 553.02 L764.17 553.51 L767.18 554 L770.2 554.49 L773.21 554.98 L776.23 555.46 L779.25 555.94 L782.26 556.42 L785.28 556.9 L788.29 557.38 L791.31 557.85 L794.33 558.33 L797.34 558.8 L800.36 559.27 L803.37 559.73 L806.39 560.2 L809.4 560.66 L812.42 561.12 L815.44 561.58 L818.45 562.04 L821.47 562.5 L824.48 562.95 L827.5 563.4" stroke="#00f000" stroke-dasharray="13 9.5"/>
<path d="M447.5 558.8 L450.51 560.08 L453.53 561.38 L456.54 562.68 L459.56 563.99 L462.57 565.31 L465.59 566.63 L468.6 567.97 L471.61 569.3 L474.63 570.64 L477.64 571.99 L480.66 573.35 L483.67 574.72 L486.69 576.11 L489.7 577.52 L492.71 578.96 L495.73 580.4 L498.74 581.85 L501.76 583.31 L504.77 584.76 L507.79 586.2 L510.8 587.63 L513.81 589.05 L516.83 590.43 L519.84 591.79 L522.86 593.19 L525.87 594.62 L528.89 596.07 L531.9 597.54 L534.91 599.02 L537.93 600.52 L540.94 602.03 L543.96 603.54 L546.97 605.06 L549.99 606.59 L553 608.12 L556.01 609.67 L559.03 611.23 L562.04 612.81 L565.06 614.39 L568.07 615.98 L571.09 617.58 L574.1 619.18 L577.11 620.79 L580.13 622.4 L583.14 624.01 L586.16 625.61 L589.17 627.21 L592.19 628.79 L595.2 630.38 L598.21 632.03 L601.23 633.74 L604.24 635.49 L607.26 637.27 L610.27 639.07 L613.29 640.89 L616.3 642.73 L619.31 644.57 L622.33 646.4 L625.34 648.23 L628.36 650.04 L631.37 651.89 L634.39 653.84 L637.4 655.88 L640.41 657.98 L643.43 660.13 L646.44 662.31 L649.46 664.5 L652.47 666.7 L655.49 668.88 L658.5 671.03 L661.51 673.14 L664.53 675.25 L667.54 677.39 L670.56 679.57 L673.57 681.76 L676.59 683.98 L679.6 686.21 L682.61 688.47 L685.63 690.75 L688.64 693.06 L691.66 695.4 L694.67 697.78 L697.69 700.23 L700.7 702.7 L703.71 705.17 L706.73 707.65 L709.74 710.13 L712.76 712.62 L715.77 715.14 L718.79 717.69 L721.8 720.28 L724.81 722.91 L727.83 725.6 L730.84 728.39 L733.86 731.31 L736.87 734.33 L739.89 737.42 L742.9 740.58 L745.91 743.79 L748.93 747.06 L751.94 750.36 L754.96 753.71 L757.97 757.21 L760.99 760.68 L764 764" stroke="#0000ff" stroke-dasharray="31.6 10.3"/>
<path d="M447.5 572.8 L450.51 573.45 L453.51 574.1 L456.52 574.77 L459.53 575.45 L462.53 576.14 L465.54 576.83 L468.55 577.54 L471.56 578.26 L474.56 578.99 L477.57 579.73 L480.58 580.47 L483.58 581.23 L486.59 581.99 L489.6 582.76 L492.6 583.55 L495.61 584.34 L498.62 585.16 L501.63 585.98 L504.63 586.82 L507.64 587.66 L510.65 588.52 L513.65 589.38 L516.66 590.25 L519.67 591.13 L522.67 592.02 L525.68 592.91 L528.69 593.81 L531.69 594.72 L534.7 595.64 L537.71 596.57 L540.72 597.51 L543.72 598.45 L546.73 599.41 L549.74 600.38 L552.74 601.35 L555.75 602.33 L558.76 603.32 L561.76 604.32 L564.77 605.32 L567.78 606.33 L570.79 607.35 L573.79 608.37 L576.8 609.41 L579.81 610.45 L582.81 611.51 L585.82 612.59 L588.83 613.68 L591.83 614.79 L594.84 615.93 L597.85 617.08 L600.85 618.26 L603.86 619.47 L606.87 620.71 L609.88 621.97 L612.88 623.25 L615.89 624.56 L618.9 625.89 L621.9 627.25 L624.91 628.64 L627.92 630.07 L630.92 631.52 L633.93 633.01 L636.94 634.5 L639.95 636.01 L642.95 637.52 L645.96 639.03 L648.97 640.53 L651.97 642.03 L654.98 643.54 L657.99 645.08 L660.99 646.65 L664 648.26 L667.01 649.92 L670.01 651.65 L673.02 653.45 L676.03 655.31 L679.04 657.22 L682.04 659.17 L685.05 661.15 L688.06 663.15 L691.06 665.17 L694.07 667.19 L697.08 669.23 L700.08 671.28 L703.09 673.36 L706.1 675.48 L709.11 677.64 L712.11 679.85 L715.12 682.12 L718.13 684.45 L721.13 686.86 L724.14 689.33 L727.15 691.86 L730.15 694.45 L733.16 697.07 L736.17 699.73 L739.17 702.41 L742.18 705.11 L745.19 707.81 L748.2 710.52 L751.2 713.28 L754.21 716.09 L757.22 718.97 L760.22 721.95 L763.23 725.05 L766.24 728.27 L769.24 731.62 L772.25 735.09 L775.26 738.69 L778.27 742.41 L781.27 746.27 L784.28 750.25 L787.29 754.39 L790.29 758.93 L793.3 763.8" stroke="#00ffff" stroke-dasharray="1.99 5.17 12.43 5.27"/>
<path d="M447.5 549.9 L450.52 550.13 L453.53 550.36 L456.55 550.58 L459.56 550.8 L462.58 551.03 L465.6 551.24 L468.61 551.46 L471.63 551.67 L474.64 551.88 L477.66 552.09 L480.67 552.3 L483.69 552.5 L486.71 552.7 L489.72 552.9 L492.74 553.1 L495.75 553.3 L498.77 553.51 L501.79 553.71 L504.8 553.91 L507.82 554.12 L510.83 554.31 L513.85 554.51 L516.87 554.69 L519.88 554.88 L522.9 555.05 L525.91 555.21 L528.93 555.37 L531.94 555.51 L534.96 555.64 L537.98 555.76 L540.99 555.88 L544.01 555.99 L547.02 556.09 L550.04 556.19 L553.06 556.29 L556.07 556.39 L559.09 556.48 L562.1 556.56 L565.12 556.65 L568.13 556.73 L571.15 556.8 L574.17 556.88 L577.18 556.95 L580.2 557.01 L583.21 557.07 L586.23 557.13 L589.25 557.19 L592.26 557.25 L595.28 557.3 L598.29 557.36 L601.31 557.41 L604.33 557.47 L607.34 557.52 L610.36 557.57 L613.37 557.61 L616.39 557.66 L619.4 557.7 L622.42 557.74 L625.44 557.77 L628.45 557.81 L631.47 557.84 L634.48 557.86 L637.5 557.88 L640.52 557.9 L643.53 557.92 L646.55 557.94 L649.56 557.95 L652.58 557.97 L655.6 557.98 L658.61 557.99 L661.63 558.01 L664.64 558.02 L667.66 558.03 L670.67 558.04 L673.69 558.05 L676.71 558.06 L679.72 558.07 L682.74 558.08 L685.75 558.09 L688.77 558.09 L691.79 558.1 L694.8 558.1 L697.82 558.1 L700.83 558.1 L703.85 558.1 L706.87 558.1 L709.88 558.1 L712.9 558.1 L715.91 558.1 L718.93 558.1 L721.94 558.1 L724.96 558.1 L727.98 558.1 L730.99 558.1 L734.01 558.1 L737.02 558.1 L740.04 558.1 L743.06 558.1 L746.07 558.1 L749.09 558.1 L752.1 558.1 L755.12 558.1 L758.13 558.1 L761.15 558.1 L764.17 558.1 L767.18 558.1 L770.2 558.1 L773.21 558.1 L776.23 558.1 L779.25 558.1 L782.26 558.1 L785.28 558.1 L788.29 558.1 L791.31 558.1 L794.33 558.1 L797.34 558.1 L800.36 558.1 L803.37 558.1 L806.39 558.1 L809.4 558.1 L812.42 558.1 L815.44 558.1 L818.45 558.1 L821.47 558.1 L824.48 558.1 L827.5 558.1" stroke="#ff0000"/>
</g>
<path d="M88.3 3.25v7.5M88.3 383.25v-7.5M100.46 3.25v7.5M100.46 383.25v-7.5M109.1 3.25v7.5M109.1 383.25v-7.5M115.79 3.25v7.5M115.79 383.25v-7.5M121.26 3.25v7.5M121.26 383.25v-7.5M125.89 3.25v7.5M125.89 383.25v-7.5M129.9 3.25v7.5M129.9 383.25v-7.5M133.43 3.25v7.5M133.43 383.25v-7.5M136.59 3.25v15.2M136.59 383.25v-15.2M157.39 3.25v7.5M157.39 383.25v-7.5M169.56 3.25v7.5M169.56 383.25v-7.5M178.19 3.25v7.5M178.19 383.25v-7.5M184.88 3.25v7.5M184.88 383.25v-7.5M190.35 3.25v7.5M190.35 383.25v-7.5M194.98 3.25v7.5M194.98 383.25v-7.5M198.99 3.25v7.5M198.99 383.25v-7.5M202.52 3.25v7.5M202.52 383.25v-7.5M205.68 3.25v15.2M205.68 383.25v-15.2M226.48 3.25v7.5M226.48 383.25v-7.5M238.65 3.25v7.5M238.65 383.25v-7.5M247.28 3.25v7.5M247.28 383.25v-7.5M253.97 3.25v7.5M253.97 383.25v-7.5M259.44 3.25v7.5M259.44 383.25v-7.5M264.07 3.25v7.5M264.07 383.25v-7.5M268.08 3.25v7.5M268.08 383.25v-7.5M271.61 3.25v7.5M271.61 383.25v-7.5M274.77 3.25v15.2M274.77 383.25v-15.2M295.57 3.25v7.5M295.57 383.25v-7.5M307.74 3.25v7.5M307.74 383.25v-7.5M316.37 3.25v7.5M316.37 383.25v-7.5M323.07 3.25v7.5M323.07 383.25v-7.5M328.54 3.25v7.5M328.54 383.25v-7.5M333.16 3.25v7.5M333.16 383.25v-7.5M337.17 3.25v7.5M337.17 383.25v-7.5M340.7 3.25v7.5M340.7 383.25v-7.5M343.86 3.25v15.2M343.86 383.25v-15.2M364.66 3.25v7.5M364.66 383.25v-7.5M376.83 3.25v7.5M376.83 383.25v-7.5M385.46 3.25v7.5M385.46 383.25v-7.5M392.16 3.25v7.5M392.16 383.25v-7.5M397.63 3.25v7.5M397.63 383.25v-7.5M402.25 3.25v7.5M402.25 383.25v-7.5M406.26 3.25v7.5M406.26 383.25v-7.5M409.79 3.25v7.5M409.79 383.25v-7.5M412.95 3.25v15.2M412.95 383.25v-15.2M433.75 3.25v7.5M433.75 383.25v-7.5M445.92 3.25v7.5M445.92 383.25v-7.5M88.3 383.25v7.5M88.3 763.2v-7.5M100.46 383.25v7.5M100.46 763.2v-7.5M109.1 383.25v7.5M109.1 763.2v-7.5M115.79 383.25v7.5M115.79 763.2v-7.5M121.26 383.25v7.5M121.26 763.2v-7.5M125.89 383.25v7.5M125.89 763.2v-7.5M129.9 383.25v7.5M129.9 763.2v-7.5M133.43 383.25v7.5M133.43 763.2v-7.5M136.59 383.25v15.2M136.59 763.2v-15.2M157.39 383.25v7.5M157.39 763.2v-7.5M169.56 383.25v7.5M169.56 763.2v-7.5M178.19 383.25v7.5M178.19 763.2v-7.5M184.88 383.25v7.5M184.88 763.2v-7.5M190.35 383.25v7.5M190.35 763.2v-7.5M194.98 383.25v7.5M194.98 763.2v-7.5M198.99 383.25v7.5M198.99 763.2v-7.5M202.52 383.25v7.5M202.52 763.2v-7.5M205.68 383.25v15.2M205.68 763.2v-15.2M226.48 383.25v7.5M226.48 763.2v-7.5M238.65 383.25v7.5M238.65 763.2v-7.5M247.28 383.25v7.5M247.28 763.2v-7.5M253.97 383.25v7.5M253.97 763.2v-7.5M259.44 383.25v7.5M259.44 763.2v-7.5M264.07 383.25v7.5M264.07 763.2v-7.5M268.08 383.25v7.5M268.08 763.2v-7.5M271.61 383.25v7.5M271.61 763.2v-7.5M274.77 383.25v15.2M274.77 763.2v-15.2M295.57 383.25v7.5M295.57 763.2v-7.5M307.74 383.25v7.5M307.74 763.2v-7.5M316.37 383.25v7.5M316.37 763.2v-7.5M323.07 383.25v7.5M323.07 763.2v-7.5M328.54 383.25v7.5M328.54 763.2v-7.5M333.16 383.25v7.5M333.16 763.2v-7.5M337.17 383.25v7.5M337.17 763.2v-7.5M340.7 383.25v7.5M340.7 763.2v-7.5M343.86 383.25v15.2M343.86 763.2v-15.2M364.66 383.25v7.5M364.66 763.2v-7.5M376.83 383.25v7.5M376.83 763.2v-7.5M385.46 383.25v7.5M385.46 763.2v-7.5M392.16 383.25v7.5M392.16 763.2v-7.5M397.63 383.25v7.5M397.63 763.2v-7.5M402.25 383.25v7.5M402.25 763.2v-7.5M406.26 383.25v7.5M406.26 763.2v-7.5M409.79 383.25v7.5M409.79 763.2v-7.5M412.95 383.25v15.2M412.95 763.2v-15.2M433.75 383.25v7.5M433.75 763.2v-7.5M445.92 383.25v7.5M445.92 763.2v-7.5M67.5 305.81h7.5M447.5 305.81h-7.5M67.5 260.51h7.5M447.5 260.51h-7.5M67.5 228.37h7.5M447.5 228.37h-7.5M67.5 203.43h7.5M447.5 203.43h-7.5M67.5 183.07h7.5M447.5 183.07h-7.5M67.5 165.84h7.5M447.5 165.84h-7.5M67.5 150.92h7.5M447.5 150.92h-7.5M67.5 137.76h7.5M447.5 137.76h-7.5M67.5 125.99h15.2M447.5 125.99h-15.2M67.5 48.55h7.5M447.5 48.55h-7.5M67.5 660.51h7.5M447.5 660.51h-7.5M67.5 600.44h7.5M447.5 600.44h-7.5M67.5 557.82h7.5M447.5 557.82h-7.5M67.5 524.76h7.5M447.5 524.76h-7.5M67.5 497.75h7.5M447.5 497.75h-7.5M67.5 474.91h7.5M447.5 474.91h-7.5M67.5 455.13h7.5M447.5 455.13h-7.5M67.5 437.68h7.5M447.5 437.68h-7.5M67.5 422.07h15.2M447.5 422.07h-15.2M468.3 3.25v7.5M468.3 383.25v-7.5M480.46 3.25v7.5M480.46 383.25v-7.5M489.1 3.25v7.5M489.1 383.25v-7.5M495.79 3.25v7.5M495.79 383.25v-7.5M501.26 3.25v7.5M501.26 383.25v-7.5M505.89 3.25v7.5M505.89 383.25v-7.5M509.9 3.25v7.5M509.9 383.25v-7.5M513.43 3.25v7.5M513.43 383.25v-7.5M516.59 3.25v15.2M516.59 383.25v-15.2M537.39 3.25v7.5M537.39 383.25v-7.5M549.56 3.25v7.5M549.56 383.25v-7.5M558.19 3.25v7.5M558.19 383.25v-7.5M564.88 3.25v7.5M564.88 383.25v-7.5M570.35 3.25v7.5M570.35 383.25v-7.5M574.98 3.25v7.5M574.98 383.25v-7.5M578.99 3.25v7.5M578.99 383.25v-7.5M582.52 3.25v7.5M582.52 383.25v-7.5M585.68 3.25v15.2M585.68 383.25v-15.2M606.48 3.25v7.5M606.48 383.25v-7.5M618.65 3.25v7.5M618.65 383.25v-7.5M627.28 3.25v7.5M627.28 383.25v-7.5M633.97 3.25v7.5M633.97 383.25v-7.5M639.44 3.25v7.5M639.44 383.25v-7.5M644.07 3.25v7.5M644.07 383.25v-7.5M648.08 3.25v7.5M648.08 383.25v-7.5M651.61 3.25v7.5M651.61 383.25v-7.5M654.77 3.25v15.2M654.77 383.25v-15.2M675.57 3.25v7.5M675.57 383.25v-7.5M687.74 3.25v7.5M687.74 383.25v-7.5M696.37 3.25v7.5M696.37 383.25v-7.5M703.07 3.25v7.5M703.07 383.25v-7.5M708.54 3.25v7.5M708.54 383.25v-7.5M713.16 3.25v7.5M713.16 383.25v-7.5M717.17 3.25v7.5M717.17 383.25v-7.5M720.7 3.25v7.5M720.7 383.25v-7.5M723.86 3.25v15.2M723.86 383.25v-15.2M744.66 3.25v7.5M744.66 383.25v-7.5M756.83 3.25v7.5M756.83 383.25v-7.5M765.46 3.25v7.5M765.46 383.25v-7.5M772.16 3.25v7.5M772.16 383.25v-7.5M777.63 3.25v7.5M777.63 383.25v-7.5M782.25 3.25v7.5M782.25 383.25v-7.5M786.26 3.25v7.5M786.26 383.25v-7.5M789.79 3.25v7.5M789.79 383.25v-7.5M792.95 3.25v15.2M792.95 383.25v-15.2M813.75 3.25v7.5M813.75 383.25v-7.5M825.92 3.25v7.5M825.92 383.25v-7.5M468.3 383.25v7.5M468.3 763.2v-7.5M480.46 383.25v7.5M480.46 763.2v-7.5M489.1 383.25v7.5M489.1 763.2v-7.5M495.79 383.25v7.5M495.79 763.2v-7.5M501.26 383.25v7.5M501.26 763.2v-7.5M505.89 383.25v7.5M505.89 763.2v-7.5M509.9 383.25v7.5M509.9 763.2v-7.5M513.43 383.25v7.5M513.43 763.2v-7.5M516.59 383.25v15.2M516.59 763.2v-15.2M537.39 383.25v7.5M537.39 763.2v-7.5M549.56 383.25v7.5M549.56 763.2v-7.5M558.19 383.25v7.5M558.19 763.2v-7.5M564.88 383.25v7.5M564.88 763.2v-7.5M570.35 383.25v7.5M570.35 763.2v-7.5M574.98 383.25v7.5M574.98 763.2v-7.5M578.99 383.25v7.5M578.99 763.2v-7.5M582.52 383.25v7.5M582.52 763.2v-7.5M585.68 383.25v15.2M585.68 763.2v-15.2M606.48 383.25v7.5M606.48 763.2v-7.5M618.65 383.25v7.5M618.65 763.2v-7.5M627.28 383.25v7.5M627.28 763.2v-7.5M633.97 383.25v7.5M633.97 763.2v-7.5M639.44 383.25v7.5M639.44 763.2v-7.5M644.07 383.25v7.5M644.07 763.2v-7.5M648.08 383.25v7.5M648.08 763.2v-7.5M651.61 383.25v7.5M651.61 763.2v-7.5M654.77 383.25v15.2M654.77 763.2v-15.2M675.57 383.25v7.5M675.57 763.2v-7.5M687.74 383.25v7.5M687.74 763.2v-7.5M696.37 383.25v7.5M696.37 763.2v-7.5M703.07 383.25v7.5M703.07 763.2v-7.5M708.54 383.25v7.5M708.54 763.2v-7.5M713.16 383.25v7.5M713.16 763.2v-7.5M717.17 383.25v7.5M717.17 763.2v-7.5M720.7 383.25v7.5M720.7 763.2v-7.5M723.86 383.25v15.2M723.86 763.2v-15.2M744.66 383.25v7.5M744.66 763.2v-7.5M756.83 383.25v7.5M756.83 763.2v-7.5M765.46 383.25v7.5M765.46 763.2v-7.5M772.16 383.25v7.5M772.16 763.2v-7.5M777.63 383.25v7.5M777.63 763.2v-7.5M782.25 383.25v7.5M782.25 763.2v-7.5M786.26 383.25v7.5M786.26 763.2v-7.5M789.79 383.25v7.5M789.79 763.2v-7.5M792.95 383.25v15.2M792.95 763.2v-15.2M813.75 383.25v7.5M813.75 763.2v-7.5M825.92 383.25v7.5M825.92 763.2v-7.5M447.5 305.81h7.5M827.5 305.81h-7.5M447.5 260.51h7.5M827.5 260.51h-7.5M447.5 228.37h7.5M827.5 228.37h-7.5M447.5 203.43h7.5M827.5 203.43h-7.5M447.5 183.07h7.5M827.5 183.07h-7.5M447.5 165.84h7.5M827.5 165.84h-7.5M447.5 150.92h7.5M827.5 150.92h-7.5M447.5 137.76h7.5M827.5 137.76h-7.5M447.5 125.99h15.2M827.5 125.99h-15.2M447.5 48.55h7.5M827.5 48.55h-7.5M447.5 660.51h7.5M827.5 660.51h-7.5M447.5 600.44h7.5M827.5 600.44h-7.5M447.5 557.82h7.5M827.5 557.82h-7.5M447.5 524.76h7.5M827.5 524.76h-7.5M447.5 497.75h7.5M827.5 497.75h-7.5M447.5 474.91h7.5M827.5 474.91h-7.5M447.5 455.13h7.5M827.5 455.13h-7.5M447.5 437.68h7.5M827.5 437.68h-7.5M447.5 422.07h15.2M827.5 422.07h-15.2" stroke="#000" stroke-width="1.15" fill="none"/>
<path d="M67.5 3.25H827.5V763.2H67.5ZM447.5 3.25V763.2M67.5 383.25H827.5" stroke="#000" stroke-width="1.25" fill="none" stroke-linejoin="miter"/>
<text id="t0" transform="translate(46.62 792.9) scale(0.93 1)" font-size="25" style="letter-spacing:3.3px">10</text>
<text id="t1" transform="translate(73.64 785.8) scale(1.12 1)" font-size="14.5">10</text>
<text id="t2" transform="translate(115.71 792.9) scale(0.93 1)" font-size="25" style="letter-spacing:3.3px">10</text>
<text id="t3" transform="translate(142.82 785.8) scale(1.12 1)" font-size="14.5">11</text>
<text id="t4" transform="translate(184.8 792.9) scale(0.93 1)" font-size="25" style="letter-spacing:3.3px">10</text>
<text id="t5" transform="translate(211.79 785.8) scale(1.12 1)" font-size="14.5">12</text>
<text id="t6" transform="translate(253.89 792.9) scale(0.93 1)" font-size="25" style="letter-spacing:3.3px">10</text>
<text id="t7" transform="translate(280.83 785.8) scale(1.12 1)" font-size="14.5">13</text>
<text id="t8" transform="translate(322.98 792.9) scale(0.93 1)" font-size="25" style="letter-spacing:3.3px">10</text>
<text id="t9" transform="translate(349.98 785.8) scale(1.12 1)" font-size="14.5">14</text>
<text id="t10" transform="translate(392.07 792.9) scale(0.93 1)" font-size="25" style="letter-spacing:3.3px">10</text>
<text id="t11" transform="translate(419.12 785.8) scale(1.12 1)" font-size="14.5">15</text>
<text id="t12" transform="translate(195.61 823) scale(0.8 1)" font-size="23.8">M</text>
<text id="t13" transform="translate(224.77 823) scale(1.13 1)" font-size="23.8" textLength="21.28" lengthAdjust="spacing">(h</text>
<path d="M251.2 811.7H259.2" stroke="#000" stroke-width="1.2"/>
<text id="t14" transform="translate(261.14 816.9) scale(1 1)" font-size="15.8">1</text>
<text id="t15" transform="translate(281.61 823) scale(0.8 1)" font-size="23.8">M</text>
<circle cx="303.7" cy="823.9" r="4.5" fill="none" stroke="#000" stroke-width="1.15"/><circle cx="303.7" cy="823.9" r="1.2" fill="#000"/>
<text id="t16" transform="translate(310.18 823) scale(1.13 1)" font-size="23.8">)</text>
<text id="t17" transform="translate(495.71 792.9) scale(0.93 1)" font-size="25" style="letter-spacing:3.3px">10</text>
<text id="t18" transform="translate(522.82 785.8) scale(1.12 1)" font-size="14.5">11</text>
<text id="t19" transform="translate(564.8 792.9) scale(0.93 1)" font-size="25" style="letter-spacing:3.3px">10</text>
<text id="t20" transform="translate(591.79 785.8) scale(1.12 1)" font-size="14.5">12</text>
<text id="t21" transform="translate(633.89 792.9) scale(0.93 1)" font-size="25" style="letter-spacing:3.3px">10</text>
<text id="t22" transform="translate(660.83 785.8) scale(1.12 1)" font-size="14.5">13</text>
<text id="t23" transform="translate(702.98 792.9) scale(0.93 1)" font-size="25" style="letter-spacing:3.3px">10</text>
<text id="t24" transform="translate(729.98 785.8) scale(1.12 1)" font-size="14.5">14</text>
<text id="t25" transform="translate(772.07 792.9) scale(0.93 1)" font-size="25" style="letter-spacing:3.3px">10</text>
<text id="t26" transform="translate(799.12 785.8) scale(1.12 1)" font-size="14.5">15</text>
<text id="t27" transform="translate(575.61 823) scale(0.8 1)" font-size="23.8">M</text>
<text id="t28" transform="translate(604.77 823) scale(1.13 1)" font-size="23.8" textLength="21.28" lengthAdjust="spacing">(h</text>
<path d="M631.2 811.7H639.2" stroke="#000" stroke-width="1.2"/>
<text id="t29" transform="translate(641.14 816.9) scale(1 1)" font-size="15.8">1</text>
<text id="t30" transform="translate(661.61 823) scale(0.8 1)" font-size="23.8">M</text>
<circle cx="683.7" cy="823.9" r="4.5" fill="none" stroke="#000" stroke-width="1.15"/><circle cx="683.7" cy="823.9" r="1.2" fill="#000"/>
<text id="t31" transform="translate(690.18 823) scale(1.13 1)" font-size="23.8">)</text>
<text id="t32" transform="translate(27.82 134.3) scale(0.93 1)" font-size="25" style="letter-spacing:3.3px">10</text>
<text id="t33" transform="translate(27.82 430.5) scale(0.93 1)" font-size="25" style="letter-spacing:3.3px">10</text>
<text id="t34" transform="translate(41 391.9) scale(1 1)" font-size="25">1</text>
<text id="t35" transform="translate(41 771.6) scale(1 1)" font-size="25">1</text>
<path d="M5.6 189.1A5.15 4.7 0 1 0 11.3 189.6" fill="none" stroke="#000" stroke-width="1.5" stroke-linecap="round"/><circle cx="6.4" cy="189.4" r="1.05" fill="#000"/>
<path d="M5.6 569.1A5.15 4.7 0 1 0 11.3 569.6" fill="none" stroke="#000" stroke-width="1.5" stroke-linecap="round"/><circle cx="6.4" cy="569.4" r="1.05" fill="#000"/>
<text id="t36" transform="translate(309.26 50) scale(1.13 1)" font-size="23.8" textLength="70.86" lengthAdjust="spacing">z=0.00</text>
<text id="t37" transform="translate(309.8 75.9) scale(0.84 1)" font-size="23.8" textLength="73.4" lengthAdjust="spacing">LCDM</text>
<text id="t38" transform="translate(372.03 75.9) scale(1.13 1)" font-size="23.8" textLength="39.12" lengthAdjust="spacing">1−3</text>
<text id="t39" transform="translate(689.71 50) scale(1.13 1)" font-size="23.8" textLength="70.82" lengthAdjust="spacing">z=1.03</text>
<text id="t40" transform="translate(309.26 423) scale(1.13 1)" font-size="23.8" textLength="71.2" lengthAdjust="spacing">z=2.08</text>
<text id="t41" transform="translate(689.26 423) scale(1.13 1)" font-size="23.8" textLength="70.63" lengthAdjust="spacing">z=3.94</text>
<path d="M95.2 254.6H136.4" stroke="#00f000" stroke-width="1.3" fill="none" stroke-dasharray="13 9.5"/>
<text id="t42" transform="translate(147.06 260) scale(1.13 1)" font-size="23.8" textLength="83.7" lengthAdjust="spacing">Navarro</text>
<text id="t43" transform="translate(253.78 260) scale(1.13 1)" font-size="23.8" textLength="48.88" lengthAdjust="spacing">1997</text>
<path d="M95.2 280.2H136.4" stroke="#0000ff" stroke-width="1.3" fill="none" stroke-dasharray="31.6 10.3"/>
<text id="t44" transform="translate(147.02 285.6) scale(1.13 1)" font-size="23.8" textLength="77.45" lengthAdjust="spacing">Bullock</text>
<text id="t45" transform="translate(247.58 285.6) scale(1.13 1)" font-size="23.8" textLength="48.43" lengthAdjust="spacing">2001</text>
<text id="t46" transform="translate(315.78 285.6) scale(1.13 1)" font-size="23.8" textLength="89.12" lengthAdjust="spacing">(K=3.75)</text>
<path d="M95.2 306.5H136.4" stroke="#00ffff" stroke-width="1.3" fill="none" stroke-dasharray="2 5.2 12.5 5.3"/>
<text id="t47" transform="translate(147.06 311.8) scale(1.13 1)" font-size="23.8" textLength="36.88" lengthAdjust="spacing">Eke</text>
<text id="t48" transform="translate(200.44 311.8) scale(1.13 1)" font-size="23.8" textLength="49.13" lengthAdjust="spacing">2001</text>
<path d="M95.2 331.9H136.4" stroke="#ff0000" stroke-width="1.3" fill="none"/>
<text id="t49" transform="translate(147.18 337.3) scale(1.13 1)" font-size="23.8" textLength="42.45" lengthAdjust="spacing">This</text>
<text id="t50" transform="translate(208.45 337.3) scale(1.13 1)" font-size="23.8" textLength="48.65" lengthAdjust="spacing">work</text>
</svg></body></html>
